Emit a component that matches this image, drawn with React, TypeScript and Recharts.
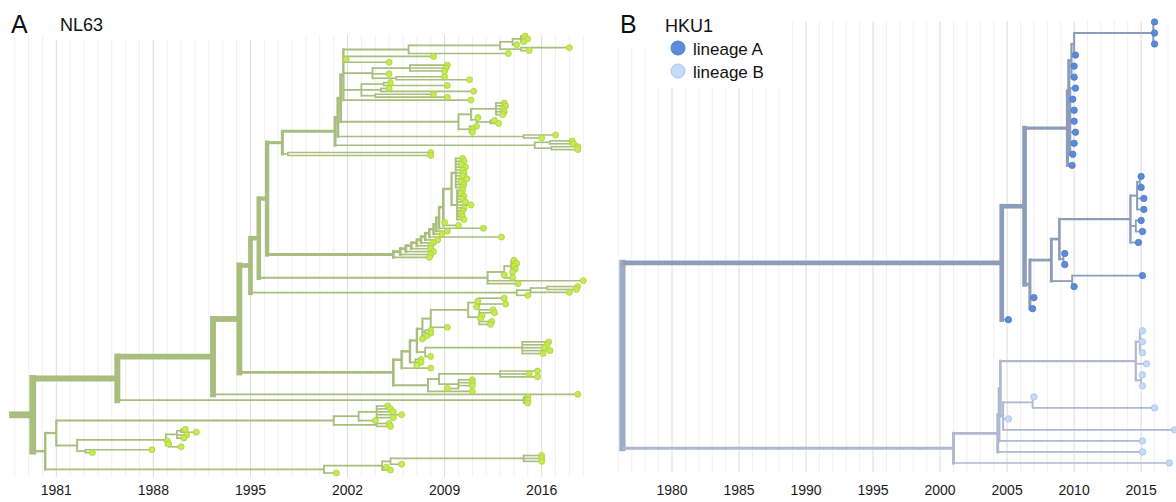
import { ComposedChart, ReferenceLine, Scatter, XAxis, YAxis } from "recharts";

// A node is [date, ...children] (children top to bottom); a tip is just its sampling date.
type Tree = number | Tree[];

// ---------- NL63 ----------
const nl63Ticks = [1981, 1988, 1995, 2002, 2009, 2016];

const nl63Lead: Tree = [2006.4, [2013.0, [2013.9, [2014.5, 2014.8, 2015.0, 2014.7], 2014.2], [2014.5, 2018.0, 2015.1]], 2013.6];
const nl63Mid: Tree = [2003.8, [2006.5, 2009.2, 2009.1, 2009.0], 2005.0, [2005.5, 2009.0, 2010.8]];
const nl63Side: Tree = [2003.0, [2004.6, 2005.1, 2009.2], [2004.4, 2005.0, 2011.1], [2004.0, 2008.2, 2009.2]];
const nl63Late: Tree = [2010.0, [2010.9, [2012.7, 2013.3, 2013.4, 2013.2, 2013.3, 2013.2], [2011.3, 2011.4, [2012.3, 2012.6, 2012.9]]], [2010.8, 2011.3, 2011.0, 2011.0]];
const nl63Recent: Tree = [2014.7, 2017.0, 2016.0];
const nl63Newest: Tree = [2015.5, [2016.6, 2018.2, 2018.3], [2016.7, 2018.6, 2018.6]];
const nl63Upper: Tree = [1997.3,
  [2001.1, [2001.3, [2001.5, [2001.7, nl63Lead, 2008.2, 2001.9, 2005.0, nl63Mid, nl63Side, 2010.9], nl63Late], nl63Recent], nl63Newest],
  [1997.7, 2008.0, 2008.0]];

const nl63Column: Tree = [2009.5,
  [2009.8, 2010.3, 2010.4, 2010.2, 2010.5, 2010.3, 2010.4, 2010.3, 2010.6, 2010.2, 2010.4, 2010.3],
  [2009.9, 2010.3, 2010.2, 2010.4, 2010.3, 2010.5, 2010.9, 2010.4, 2010.3, 2010.2, 2010.3, 2010.4]];
const nl63Dense: Tree = [2005.3, [2005.8, [2006.2, [2006.6, [2007.0, [2007.3, [2007.6, [2007.9, [2008.2, [2008.4, [2008.6,
  [2008.9, nl63Column, 2009.0, 2010.0], 2011.8], 2009.2], 2008.8], 2013.1], 2008.5], 2008.2], 2008.0], 2008.0], 2008.2], 2008.0], 2007.9];

const nl63Branch14: Tree = [2012.1, [2013.3, [2013.8, 2014.0, 2014.2, 2014.0, 2014.1, 2013.9], 2013.3, 2013.9], 2019.0, 2014.3];
const nl63Branch15: Tree = [2014.2, [2015.2, [2016.4, 2018.6, 2018.5], 2018.0], 2015.0];

const nl63Group12: Tree = [2008.0, [2010.7, [2011.5, 2013.3, 2011.4, 2013.4, 2011.3], [2011.5, 2012.5, 2012.6, 2011.7, 2011.6, 2012.4, 2012.3]], 2009.2];
const nl63Group16: Tree = [2014.6, 2016.5, 2016.4, 2016.2, 2016.6, 2016.1];
const nl63FUpper: Tree = [2005.9, [2006.5, [2007.0, [2007.4, nl63Group12, [2007.6, 2008.0, 2008.0], 2007.7, 2007.4], [2007.6, nl63Group16, 2008.0]],
  [2006.9, 2007.3, 2007.3, 2007.0]], 2008.0];
const nl63FLower: Tree = [2007.8, [2008.6, [2013.0, 2015.7, 2015.1, 2015.7], [2010.0, 2011.0, 2011.0, 2011.0, 2009.2]], 2011.0];

const nl63Old2005: Tree = [2001.0, [2002.8, [2004.1, 2004.9, 2005.1, 2005.3, 2005.9, 2005.3], 2004.0], [2004.1, 2005.0, 2005.1]];
const nl63Old1989: Tree = [1988.9, [1989.7, [1990.0, 1990.3, 1991.1], 1990.4, 1990.2], 1989.0, [1989.1, 1989.1, 1990.0]];
const nl63Basal: Tree = [2000.3, [2004.5, [2005.1, [2014.7, 2016.0, 2016.0, 2016.0], 2005.9], 2004.8, 2005.1], 2001.2];

const nl63Tree: Tree = [1977.6, [1979.3,
  [1985.4,
    [1992.3, [1994.2, [1995.0, [1995.6, [1996.2, nl63Upper, nl63Dense], nl63Branch14], nl63Branch15], [2005.3, nl63FUpper, nl63FLower]], 2018.6],
    [2014.7, 2015.0, 2015.0, 2015.0]],
  [1980.2, [1981.0, nl63Old2005, [1982.5, nl63Old1989, [1983.1, 1987.9, 1983.6]]], nl63Basal]]];

// ---------- HKU1 ----------
const hku1Ticks = [1980, 1985, 1990, 1995, 2000, 2005, 2010, 2015];

const hku1Top: Tree = [2015.9, 2016.0, 2016.0, 2016.0];
const hku1Cluster2010: Tree = [2009.5,
  [2009.6, [2009.8, [2010.0, hku1Top, 2010.1], 2010.0, 2010.0], [2009.7, 2010.1, 2009.9, 2010.0, 2010.0, 2010.1, 2010.0, 2009.9]],
  2009.85];
const hku1Cluster2015: Tree = [2014.2, [2014.7, [2014.9, 2015.0, 2015.0], 2015.2, 2015.2], [2014.6, 2015.0, 2015.1], 2014.8];
const hku1LineageA: Tree = [2004.6,
  [2006.3, hku1Cluster2010, [2006.7, [2008.3, [2008.9, hku1Cluster2015, [2009.2, 2009.3, 2009.3]], [2009.85, 2015.1, 2010.0]], 2007.0, 2006.9]],
  2005.1];
const hku1ClusterB: Tree = [2014.6, [2014.9, 2015.1, 2015.1, 2015.1], 2015.4, [2015.0, 2015.1, 2015.1]];
const hku1LineageB: Tree = [2001.0, [2004.3, [2004.4, [2004.5, hku1ClusterB, [2004.7, [2006.9, 2007.0, 2016.0], 2005.1, 2017.5]], 2015.1], 2015.1], 2017.1];
const hku1Tree: Tree = [1976.3, hku1LineageA, hku1LineageB];

// ---------- layout ----------
interface Branch { x1: number; y1: number; x2: number; y2: number; w: number; color: string; vertical: boolean }
interface Tip { x: number; y: number; group: number }

const countTips = (t: Tree): number =>
  typeof t === "number" ? 1 : (t.slice(1) as Tree[]).reduce((s: number, c) => s + countTips(c), 0);

function layoutTree(root: Tree, colors: string[], rootColor: string, extra: number) {
  const total = countTips(root);
  const branches: Branch[] = [];
  const tips: Tip[] = [];
  let row = 0;
  const width = (n: number) => 1.6 + (extra * n) / total;
  const walk = (t: Tree, from: number, group: number): number => {
    if (typeof t === "number") {
      const y = row++;
      branches.push({ x1: from, y1: y, x2: t, y2: y, w: width(1), color: colors[group], vertical: false });
      tips.push({ x: t, y, group });
      return y;
    }
    const date = t[0] as number;
    const kids = t.slice(1) as Tree[];
    const ys = kids.map((k, i) => walk(k, date, group < 0 ? i : group));
    const y = (ys[0] + ys[ys.length - 1]) / 2;
    const w = width(countTips(t));
    const color = group < 0 ? rootColor : colors[group];
    branches.push({ x1: date, y1: ys[0], x2: date, y2: ys[ys.length - 1], w, color, vertical: true });
    branches.push({ x1: from, y1: y, x2: date, y2: y, w, color, vertical: false });
    return y;
  };
  walk(root, (root as number[])[0], -1);
  return {
    branches: branches.filter((b) => b.x1 !== b.x2 || b.y1 !== b.y2).sort((a, b) => b.w - a.w),
    tips,
    total,
  };
}

const GREEN = "#a8be7e";
const BLUE_A = "#8b9dba";
const BLUE_B = "#b0b9d1";

const nl63 = layoutTree(nl63Tree, [GREEN], GREEN, 5.2);
const hku1 = layoutTree(hku1Tree, [BLUE_A, BLUE_B], "#9eabc5", 4.6);

const range = (a: number, b: number) => Array.from({ length: b - a + 1 }, (_, i) => a + i);

const tipShape = (fill: string, stroke: string, r: number) => (props: any) =>
  <circle cx={props.cx} cy={props.cy} r={r} fill={fill} stroke={stroke} strokeWidth={0.8} />;

interface PanelProps {
  left: number;
  width: number;
  margin: { top: number; right: number; bottom: number; left: number };
  axisHeight: number;
  tickMargin: number;
  xDomain: [number, number];
  ticks: number[];
  gridYears: number[];
  tree: ReturnType<typeof layoutTree>;
  padTop: number;
  padBottom: number;
  tipStyles: { fill: string; stroke: string; r: number }[];
}

function TreePanel(p: PanelProps) {
  const plotH = 502 - p.margin.top - p.axisHeight;
  const s = (plotH - p.padTop - p.padBottom) / (p.tree.total - 1);
  const yDomain = [-p.padTop / s, p.tree.total - 1 + p.padBottom / s];
  return (
    <div style={{ position: "absolute", left: p.left, top: 0 }}>
      <ComposedChart width={p.width} height={502} margin={p.margin}>
        <XAxis
          type="number"
          dataKey="x"
          domain={p.xDomain}
          ticks={p.ticks}
          interval={0}
          tickLine={false}
          axisLine={false}
          height={p.axisHeight}
          tickMargin={p.tickMargin}
          tick={{ fontSize: 14, fill: "#1a1a1a" }}
        />
        <YAxis type="number" dataKey="y" domain={yDomain} reversed hide />
        {p.gridYears.map((yr) => (
          <ReferenceLine
            key={"g" + yr}
            x={yr}
            stroke={p.ticks.includes(yr) ? "#dcdcdc" : "#f0f0f0"}
            strokeWidth={1}
          />
        ))}
        {p.tree.branches.map((b, i) => (
          <ReferenceLine
            key={"b" + i}
            segment={[{ x: b.x1, y: b.y1 }, { x: b.x2, y: b.y2 }]}
            stroke={b.color}
            strokeWidth={b.w}
            strokeLinecap={b.vertical ? "square" : "butt"}
            ifOverflow="visible"
          />
        ))}
        {p.tipStyles.map((st, g) => (
          <Scatter
            key={"t" + g}
            data={p.tree.tips.filter((t) => t.group === g)}
            isAnimationActive={false}
            shape={tipShape(st.fill, st.stroke, st.r)}
          />
        ))}
      </ComposedChart>
    </div>
  );
}

export default function App() {
  return (
    <div
      style={{
        position: "absolute",
        left: 0,
        top: 0,
        width: 1176,
        height: 502,
        background: "#fff",
        fontFamily: "'Liberation Sans', Arial, Helvetica, sans-serif",
      }}
    >
      <TreePanel
        left={0}
        width={600}
        margin={{ top: 35, right: 7, bottom: 0, left: 5 }}
        axisHeight={25}
        tickMargin={2}
        xDomain={[1977.3, 2019.7]}
        ticks={nl63Ticks}
        gridYears={range(1978, 2019)}
        tree={nl63}
        padTop={1}
        padBottom={4}
        tipStyles={[{ fill: "#c6ea52", stroke: "#a9d23c", r: 3 }]}
      />
      <TreePanel
        left={600}
        width={576}
        margin={{ top: 21, right: 0, bottom: 0, left: 16 }}
        axisHeight={30}
        tickMargin={7}
        xDomain={[1975.82, 2017.6]}
        ticks={hku1Ticks}
        gridYears={range(1976, 2017)}
        tree={hku1}
        padTop={1}
        padBottom={9}
        tipStyles={[
          { fill: "#5b8bd7", stroke: "#4a7bc9", r: 3.2 },
          { fill: "#c5dbf6", stroke: "#a6c3ec", r: 3.2 },
        ]}
      />
      <svg
        width={1176}
        height={502}
        style={{ position: "absolute", left: 0, top: 0, pointerEvents: "none" }}
      >
        <rect x={50} y={0} width={250} height={40} fill="#fff" />
        <rect x={608} y={0} width={42} height={47} fill="#fff" />
        <rect x={650} y={0} width={136} height={88} fill="#fff" />
        <text x={11} y={33} fontSize={25} fill="#111">A</text>
        <text x={60} y={31} fontSize={18} fill="#111">NL63</text>
        <text x={620} y={33} fontSize={25} fill="#111">B</text>
        <text x={665} y={32} fontSize={18} fill="#111">HKU1</text>
        <circle cx={678} cy={48} r={7} fill="#5b8bd7" stroke="#4a7bc9" strokeWidth={1} />
        <text x={693} y={55} fontSize={17} fill="#111">lineage A</text>
        <circle cx={678} cy={71} r={7} fill="#c5dbf6" stroke="#a6c3ec" strokeWidth={1} />
        <text x={693} y={78} fontSize={17} fill="#111">lineage B</text>
      </svg>
    </div>
  );
}
